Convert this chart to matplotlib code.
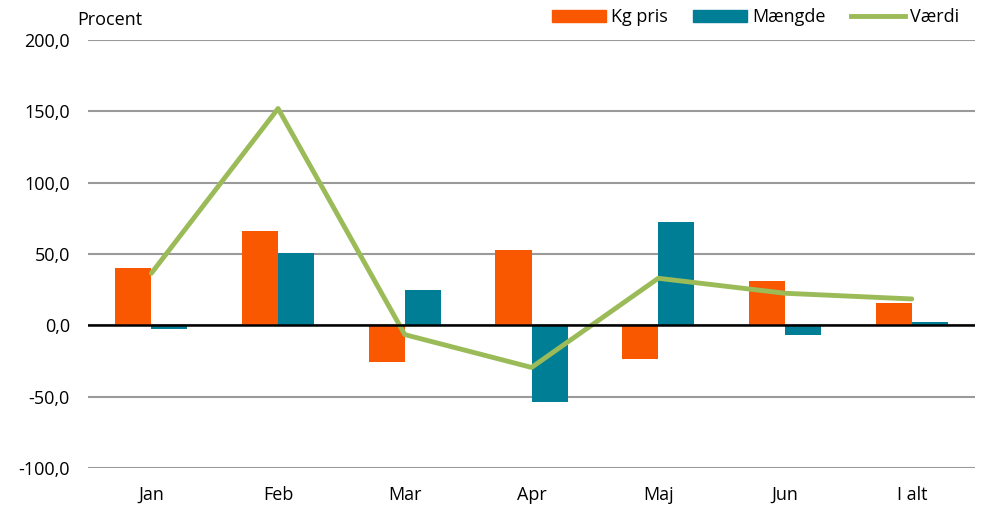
import numpy as np
import matplotlib.pyplot as plt
from matplotlib.patches import Patch
from matplotlib.lines import Line2D

plt.rcParams['font.family'] = ['Open Sans', 'DejaVu Sans']

# Data
maaneder = ['Jan', 'Feb', 'Mar', 'Apr', 'Maj', 'Jun', 'I alt']
kg_pris = [40.0, 66.0, -26.0, 52.5, -23.4, 30.8, 15.6]
maengde = [-2.3, 51.0, 25.0, -53.7, 72.7, -6.5, 2.3]
vaerdi = [36.5, 152.0, -6.5, -29.5, 33.0, 22.5, 18.5]

orange = '#F95700'
teal = '#007E96'
groen = '#9BBB59'

fig = plt.figure(figsize=(9.83, 5.08), dpi=100)
ax = fig.add_axes([0.0895, 0.0787, 0.9025, 0.8425])

x = np.arange(len(maaneder))
b = 0.285
ax.bar(x - b / 2, kg_pris, b, color=orange, zorder=3)
ax.bar(x + b / 2, maengde, b, color=teal, zorder=3)
ax.plot(x, vaerdi, color=groen, lw=3.5, solid_capstyle='round', zorder=4)

ax.set_xlim(-0.5, len(maaneder) - 0.5)
ax.set_ylim(-100, 200)
ax.set_yticks(np.arange(-100, 201, 50))
ax.set_yticklabels([f'{v:.1f}'.replace('.', ',') for v in np.arange(-100, 201, 50)])
ax.set_xticks(x)
ax.set_xticklabels(maaneder)
ax.tick_params(length=0, labelsize=13, colors='black')
ax.tick_params(axis='x', pad=13)
ax.tick_params(axis='y', pad=13)

ax.grid(axis='y', color='#9A9A9A', lw=1.5, zorder=0)
ax.axhline(0, color='black', lw=1.8, zorder=5)
for s in ax.spines.values():
    s.set_visible(False)

fig.text(0.079, 0.96, 'Procent', ha='left', va='center', fontsize=13)

handles = [Patch(color=orange), Patch(color=teal), Line2D([], [], color=groen, lw=3.5)]
fig.legend(handles, ['Kg pris', 'Mængde', 'Værdi'], ncol=3, frameon=False,
           loc='center right', bbox_to_anchor=(0.976, 0.966), fontsize=13,
           borderaxespad=0, borderpad=0,
           handlelength=3.0, handleheight=0.62, handletextpad=0.28, columnspacing=1.4)

fig.savefig('out.png', dpi=100)
